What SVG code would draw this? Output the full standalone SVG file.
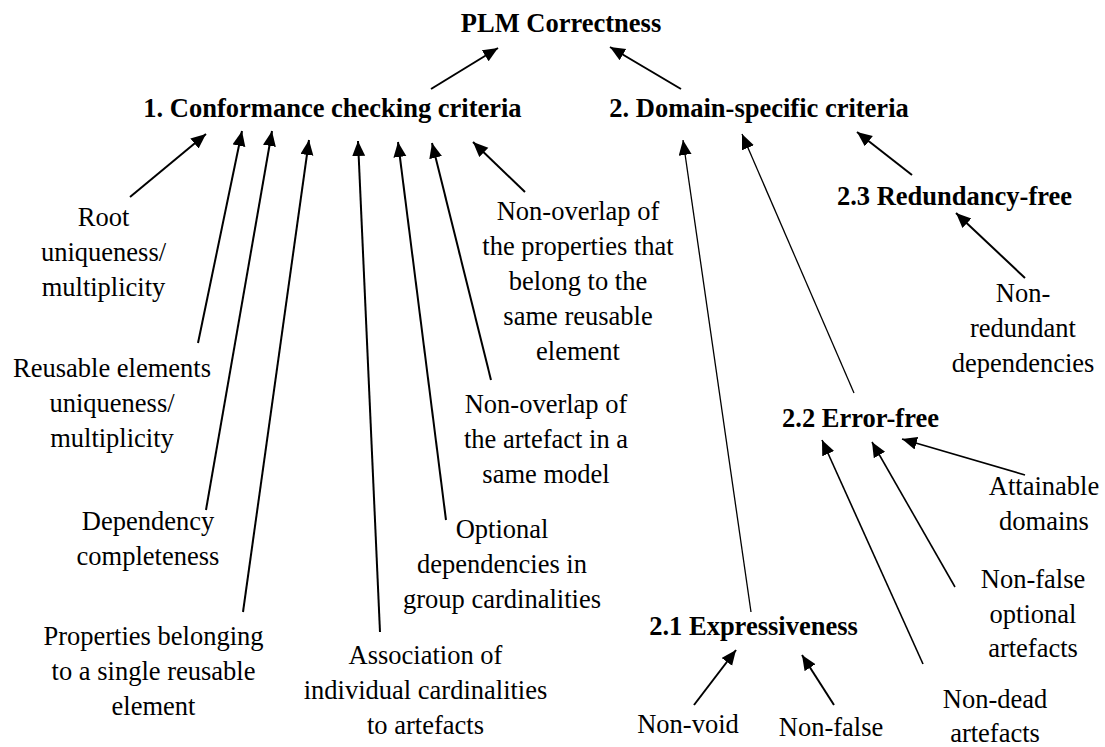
<svg xmlns="http://www.w3.org/2000/svg" width="1105" height="747" viewBox="0 0 1105 747" font-family="'Liberation Serif','Times New Roman',serif">
<style>
text{font-family:"Liberation Serif","Times New Roman",serif;font-size:26.5px;fill:#000;text-anchor:middle}
.b{font-weight:bold}
.c line{stroke:#000;stroke-width:2;marker-end:url(#ah)}
.c line.t{stroke-width:1.3}
.c line.m{stroke-width:1.6}
</style>
<defs>
<marker id="ah" markerUnits="userSpaceOnUse" markerWidth="16" markerHeight="14" refX="15" refY="6.5" orient="auto">
<path d="M0,0 L15,6.5 L0,13 z" fill="#000"/>
</marker>
</defs>
<rect width="1105" height="747" fill="#fff"/>
<g id="connectors" class="c">
<line x1="431" y1="89" x2="498" y2="48"/>
<line x1="681" y1="89" x2="610" y2="47"/>
<line x1="130" y1="197" x2="206" y2="134"/>
<line x1="198" y1="343" x2="242" y2="131"/>
<line x1="206" y1="510" x2="272" y2="131"/>
<line x1="243" y1="612" x2="309" y2="140"/>
<line x1="380" y1="632" x2="358" y2="141"/>
<line x1="446" y1="520" x2="398" y2="142"/>
<line x1="491" y1="380" x2="432" y2="143"/>
<line x1="525" y1="192" x2="473" y2="142"/>
<line class="t" x1="751" y1="612" x2="683" y2="140"/>
<line class="t" x1="854" y1="393" x2="742" y2="134"/>
<line x1="912" y1="175" x2="857" y2="132"/>
<line x1="1025" y1="278" x2="956" y2="213"/>
<line x1="694" y1="705" x2="736" y2="650"/>
<line x1="834" y1="705" x2="802" y2="655"/>
<line class="m" x1="923" y1="664" x2="822" y2="440"/>
<line class="m" x1="955" y1="587" x2="872" y2="442"/>
<line class="m" x1="1025" y1="475" x2="902" y2="439"/>
</g>
<g id="plm"><text class="b" x="561" y="32">PLM Correctness</text></g>
<g id="conformance"><text class="b" x="332.5" y="117">1. Conformance checking criteria</text></g>
<g id="domain"><text class="b" x="759" y="117">2. Domain-specific criteria</text></g>
<g id="expressiveness"><text class="b" x="753.5" y="635">2.1 Expressiveness</text></g>
<g id="errorfree"><text class="b" x="860.5" y="427">2.2 Error-free</text></g>
<g id="redundancyfree"><text class="b" x="954.5" y="205">2.3 Redundancy-free</text></g>
<g id="root-uniqueness"><text x="103.5" y="226">Root</text><text x="103.5" y="261">uniqueness/</text><text x="103.5" y="296">multiplicity</text></g>
<g id="reusable-uniqueness"><text x="112" y="377">Reusable elements</text><text x="112" y="412">uniqueness/</text><text x="112" y="447">multiplicity</text></g>
<g id="dependency-completeness"><text x="148" y="530">Dependency</text><text x="148" y="565">completeness</text></g>
<g id="properties-belonging"><text x="153.5" y="645">Properties belonging</text><text x="153.5" y="680">to a single reusable</text><text x="153.5" y="715">element</text></g>
<g id="association"><text x="425.5" y="664">Association of</text><text x="425.5" y="699">individual cardinalities</text><text x="425.5" y="734">to artefacts</text></g>
<g id="optional-dependencies"><text x="502" y="538">Optional</text><text x="502" y="573">dependencies in</text><text x="502" y="608">group cardinalities</text></g>
<g id="non-overlap-artefact"><text x="546" y="413">Non-overlap of</text><text x="546" y="448">the artefact in a</text><text x="546" y="483">same model</text></g>
<g id="non-overlap-properties"><text x="578" y="220">Non-overlap of</text><text x="578" y="255">the properties that</text><text x="578" y="290">belong to the</text><text x="578" y="325">same reusable</text><text x="578" y="360">element</text></g>
<g id="non-void"><text x="688" y="733">Non-void</text></g>
<g id="non-false"><text x="831" y="736">Non-false</text></g>
<g id="non-dead"><text x="995" y="708">Non-dead</text><text x="995" y="742">artefacts</text></g>
<g id="non-false-optional"><text x="1033" y="588">Non-false</text><text x="1033" y="622.5">optional</text><text x="1033" y="657">artefacts</text></g>
<g id="attainable-domains"><text x="1044" y="495">Attainable</text><text x="1044" y="530">domains</text></g>
<g id="non-redundant"><text x="1023" y="302">Non-</text><text x="1023" y="337">redundant</text><text x="1023" y="372">dependencies</text></g>
</svg>
